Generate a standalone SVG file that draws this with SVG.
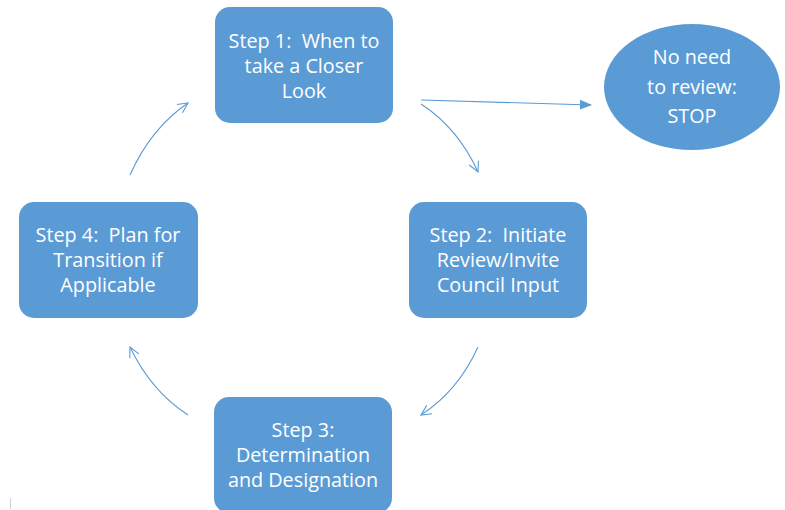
<svg xmlns="http://www.w3.org/2000/svg" width="785" height="510" viewBox="0 0 785 510">
<defs>
<style>
.box{fill:#5B9BD5;}
.t{fill:#FFFFFF;font-family:"Open Sans","Liberation Sans",sans-serif;font-size:19.8px;text-anchor:middle;white-space:pre;}
.c{fill:none;stroke:#5B9BD5;stroke-width:1.1;}
</style>
<marker id="open" viewBox="0 0 12 12" refX="11" refY="6" markerWidth="12" markerHeight="12" markerUnits="userSpaceOnUse" orient="auto">
<path d="M1,1 L11,6 L1,11" fill="none" stroke="#5B9BD5" stroke-width="1.1"/>
</marker>
<marker id="solid" viewBox="0 0 12 12" refX="11" refY="6" markerWidth="12" markerHeight="12" markerUnits="userSpaceOnUse" orient="auto">
<path d="M0,1 L12,6 L0,11 Z" fill="#5B9BD5"/>
</marker>
</defs>
<rect width="785" height="510" fill="#FFFFFF"/>
<g id="connectors">
<path class="c" d="M421,100 L591,105" marker-end="url(#solid)"/>
<path class="c" d="M421,104 Q458,128 478,172" marker-end="url(#open)"/>
<path class="c" d="M478,347 Q458,391 421,415" marker-end="url(#open)"/>
<path class="c" d="M188,415 Q151,391 130,347" marker-end="url(#open)"/>
<path class="c" d="M130,175 Q151,128 188,103" marker-end="url(#open)"/>
</g>
<g id="step1">
<rect class="box" x="215" y="7" width="178" height="116" rx="15"/>
<text class="t" x="304" y="48" xml:space="preserve">Step 1:  When to</text>
<text class="t" x="304" y="73">take a Closer</text>
<text class="t" x="304" y="98">Look</text>
</g>
<g id="step2">
<rect class="box" x="409" y="202" width="178" height="116" rx="15"/>
<text class="t" x="498" y="242" xml:space="preserve">Step 2:  Initiate</text>
<text class="t" x="498" y="267">Review/Invite</text>
<text class="t" x="498" y="292">Council Input</text>
</g>
<g id="step3">
<rect class="box" x="214" y="397" width="178" height="116" rx="15"/>
<text class="t" x="303" y="437">Step 3:</text>
<text class="t" x="303" y="462">Determination</text>
<text class="t" x="303" y="487">and Designation</text>
</g>
<g id="step4">
<rect class="box" x="19" y="202" width="179" height="116" rx="15"/>
<text class="t" x="108" y="242" xml:space="preserve">Step 4:  Plan for</text>
<text class="t" x="108" y="267">Transition if</text>
<text class="t" x="108" y="292">Applicable</text>
</g>
<g id="stop">
<ellipse class="box" cx="692" cy="87" rx="88" ry="63"/>
<text class="t" x="692" y="64">No need</text>
<text class="t" x="692" y="94">to review:</text>
<text class="t" x="692" y="123">STOP</text>
</g>
<line x1="10.5" y1="498" x2="10.5" y2="509" stroke="#D0D0D0" stroke-width="1"/>
</svg>
